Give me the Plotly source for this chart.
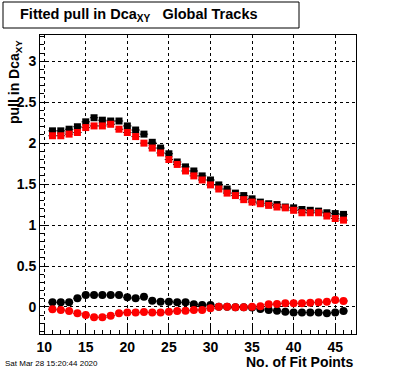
import plotly.graph_objects as go

fit_points = list(range(11, 47))

black_squares = [2.15, 2.15, 2.17, 2.20, 2.26, 2.31, 2.28, 2.27, 2.27, 2.21,
                 2.16, 2.11, 2.01, 1.94, 1.87, 1.77, 1.71, 1.66, 1.60, 1.55,
                 1.49, 1.44, 1.39, 1.36, 1.32, 1.28, 1.26, 1.25, 1.22, 1.21,
                 1.19, 1.18, 1.17, 1.15, 1.14, 1.13]
red_squares = [2.09, 2.09, 2.11, 2.13, 2.19, 2.21, 2.21, 2.23, 2.17, 2.13,
               2.08, 2.00, 1.94, 1.88, 1.80, 1.74, 1.66, 1.60, 1.55, 1.49,
               1.44, 1.39, 1.36, 1.31, 1.28, 1.26, 1.24, 1.22, 1.21, 1.18,
               1.15, 1.15, 1.15, 1.11, 1.08, 1.06]
black_circles = [0.057, 0.057, 0.057, 0.106, 0.146, 0.146, 0.146, 0.146, 0.146, 0.118,
                 0.106, 0.126, 0.077, 0.065, 0.065, 0.057, 0.057, 0.033, 0.024, 0.024,
                 0.004, 0.004, -0.004, -0.004, -0.008, -0.024, -0.037, -0.045, -0.057, -0.069,
                 -0.069, -0.069, -0.069, -0.077, -0.069, -0.049]
red_circles = [-0.028, -0.037, -0.049, -0.077, -0.098, -0.126, -0.126, -0.106, -0.077, -0.069,
               -0.069, -0.061, -0.069, -0.069, -0.057, -0.049, -0.045, -0.037, -0.037, -0.016,
               0.004, 0.004, -0.004, -0.004, 0.004, 0.008, 0.033, 0.037, 0.045, 0.045,
               0.045, 0.053, 0.057, 0.065, 0.085, 0.073]

x_ticks = [10, 15, 20, 25, 30, 35, 40, 45]
y_ticks = [0, 0.5, 1, 1.5, 2, 2.5, 3]

W, H = 396, 372
L, R, T, B = 40, 356, 35, 334
FONT = "Liberation Sans, Arial, Helvetica, sans-serif"


def px(x):
    return (x - L) / (R - L)


def py(y):
    return (B - y) / (B - T)


fig = go.Figure()
half = [0.5] * len(fit_points)
series = [
    (black_squares, "square", "black", 7),
    (red_squares, "square", "red", 7),
    (black_circles, "circle", "black", 8),
    (red_circles, "circle", "red", 8),
]
for vals, sym, col, size in series:
    fig.add_trace(go.Scatter(
        x=fit_points, y=vals, mode="markers",
        marker=dict(symbol=sym, size=size, color=col, line=dict(width=0)),
        error_x=dict(type="data", array=half, color="black", thickness=1, width=0),
        showlegend=False, hoverinfo="skip",
    ))

axis_common = dict(
    showline=True, linecolor="black", linewidth=1, mirror=True,
    ticks="inside", tickcolor="black", ticklen=8, tickwidth=1,
    showgrid=True, gridcolor="black", griddash="dot", gridwidth=1,
    zeroline=False,
    tickfont=dict(family=FONT, size=14, color="black", weight="bold"),
)

fig.update_xaxes(
    range=[9.5, 47.5], tickvals=x_ticks,
    minor=dict(ticks="inside", ticklen=4, tickcolor="black", dtick=1, tick0=10, showgrid=False),
    **axis_common,
)
fig.update_yaxes(
    range=[-0.33, 3.32], tickvals=y_ticks,
    minor=dict(ticks="inside", ticklen=4, tickcolor="black", dtick=0.1, tick0=0, showgrid=False),
    **axis_common,
)

fig.add_shape(type="rect", xref="paper", yref="paper",
              x0=px(3), x1=px(299), y0=py(28), y1=py(2),
              line=dict(color="black", width=1), fillcolor="white")

fig.add_annotation(xref="paper", yref="paper", x=px(18), y=py(15),
                   xanchor="left", yanchor="middle", showarrow=False,
                   text="Fitted pull in Dca<sub>XY</sub>   Global Tracks",
                   font=dict(family=FONT, size=14.5, color="black", weight="bold"))

fig.add_annotation(xref="paper", yref="paper", x=px(15), y=py(38),
                   xanchor="center", yanchor="top", showarrow=False, textangle=-90,
                   text="pull in Dca<sub>XY</sub>",
                   font=dict(family=FONT, size=14, color="black", weight="bold"))

fig.add_annotation(xref="paper", yref="paper", x=px(356), y=py(362),
                   xanchor="right", yanchor="middle", showarrow=False,
                   text="No. of Fit Points",
                   font=dict(family=FONT, size=14, color="black", weight="bold"))

fig.add_annotation(xref="paper", yref="paper", x=px(3), y=py(363),
                   xanchor="left", yanchor="middle", showarrow=False,
                   text="Sat Mar 28 15:20:44 2020",
                   font=dict(family=FONT, size=8, color="black"))

fig.update_layout(
    width=W, height=H,
    margin=dict(l=L, r=W - R, t=T, b=H - B, pad=0),
    paper_bgcolor="white", plot_bgcolor="white",
    showlegend=False,
)

fig.write_html("out.html", config={"displayModeBar": False, "staticPlot": True},
               post_script="document.body.style.margin='0';document.body.style.overflow='hidden';")
